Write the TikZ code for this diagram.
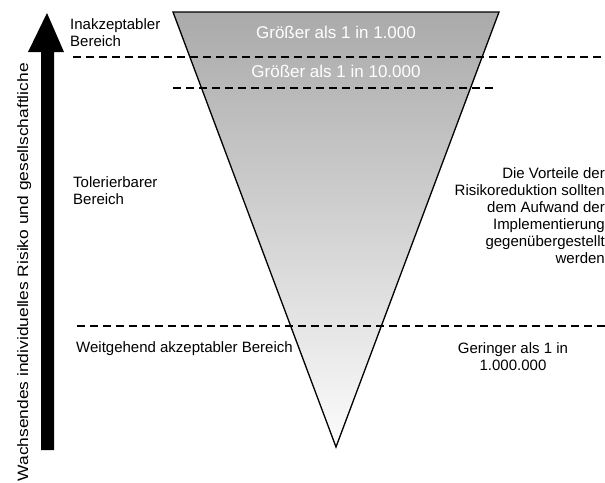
\documentclass[tikz,border=0pt]{standalone}
\usepackage{fontspec}
\setmainfont{Liberation Sans}
\begin{document}
\begin{tikzpicture}[x=1pt,y=-1pt,
  lbl/.style={inner sep=0pt,font=\fontsize{15}{17}\selectfont},
  big/.style={inner sep=0pt,font=\fontsize{17}{19}\selectfont,text=white},
  dline/.style={line width=1.2pt,dash pattern=on 8pt off 5pt}]
\useasboundingbox (0,0) rectangle (605,482);
\definecolor{topgray}{RGB}{170,170,170}
\definecolor{midgray}{RGB}{220,220,220}
\definecolor{botgray}{RGB}{252,252,252}
% funnel
\coordinate (tl) at (173,12);
\coordinate (tr) at (499,12);
\coordinate (bt) at (336,447);
\shade[top color=topgray,middle color=midgray,bottom color=botgray] (tl) -- (tr) -- (bt) -- cycle;
\draw[line width=1.3pt,line join=miter] (tl) -- (tr) -- (bt) -- cycle;
% dashed lines
\coordinate (d1a) at (73,57);  \coordinate (d1b) at (605,57);
\coordinate (d2a) at (173,88); \coordinate (d2b) at (497,88);
\coordinate (d3a) at (77,326); \coordinate (d3b) at (605,326);
\draw[dline] (d1a) -- (d1b);
\draw[dline] (d2a) -- (d2b);
\draw[dline] (d3a) -- (d3b);
% big arrow
\coordinate (a1) at (41,450); \coordinate (a2) at (41,52); \coordinate (a3) at (28,52);
\coordinate (a4) at (47,13); \coordinate (a5) at (64,52); \coordinate (a6) at (54,52);
\coordinate (a7) at (54,450);
\fill[black] (a1) -- (a2) -- (a3) -- (a4) -- (a5) -- (a6) -- (a7) -- cycle;
% rotated label
\node[lbl,rotate=90,anchor=base east] (axis) at (28,63) {\scalebox{1.16}[1]{Wachsendes individuelles Risiko und gesellschaftliche}};
% zone labels
\node[lbl,anchor=north west,align=left] (inak) at (70,18) {Inakzeptabler\\Bereich};
\node[lbl,anchor=north west,align=left] (tol) at (73,176) {Tolerierbarer\\Bereich};
\node[lbl,anchor=base west] (weit) at (76,352) {Weitgehend akzeptabler Bereich};
\node[big,anchor=base] (g1) at (336,38) {Größer als 1 in 1.000};
\node[big,anchor=base] (g2) at (336,77) {Größer als 1 in 10.000};
\node[lbl,anchor=north east,align=right] (vort) at (605,167) {Die Vorteile der\\Risikoreduktion sollten\\dem Aufwand der\\Implementierung\\gegenübergestellt\\werden};
\node[lbl,anchor=north,align=center] (ger) at (513,342) {Geringer als 1 in\\1.000.000};
\end{tikzpicture}
\end{document}
